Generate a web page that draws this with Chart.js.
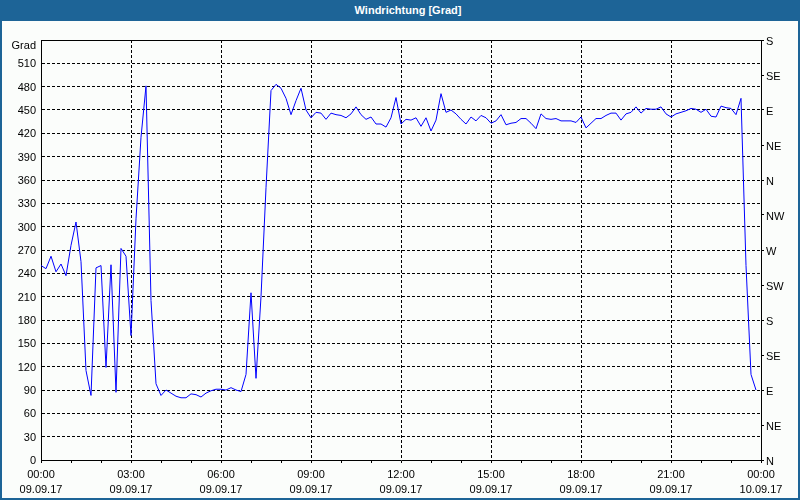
<!DOCTYPE html>
<html><head><meta charset="utf-8">
<script src="https://cdn.jsdelivr.net/npm/chart.js@4/dist/chart.umd.min.js"></script>
<style>
html,body{margin:0;padding:0;background:#fff;}
#wrap{position:relative;width:800px;height:500px;background:#fbfdfb;overflow:hidden;}
#c{position:absolute;left:0;top:0;width:800px;height:500px;}
#frame{position:absolute;left:0;top:0;width:796px;height:496px;border:2px solid #1d6497;pointer-events:none;}
#title{position:absolute;left:0;top:0;width:800px;height:21px;background:#1d6497;color:#fff;font:bold 11px "Liberation Sans",sans-serif;line-height:21px;text-align:center;}
#title span{position:relative;left:8px;}
</style></head><body>
<div id="wrap"><canvas id="c" width="800" height="500"></canvas><div id="title"><span>Windrichtung [Grad]</span></div><div id="frame"></div></div>
<script>
// sampling interval of the series (minutes), starting 09.09.17 00:00
const sampleMinutes = 10;
// wind direction in degrees, one value per sample
const windDirection = [
250,246,262,242,252,237,276,306,255,115,
83,247,250,119,251,87,272,262,160,310,
415,481,205,98,83,90,86,82,80,80,
85,84,81,86,89,91,91,90,93,90,
88,110,215,105,210,350,475,483,478,465,
444,462,478,450,440,447,446,438,446,444,
443,440,445,454,444,438,441,432,432,428,
440,466,432,438,437,440,429,440,423,437,
471,447,450,445,438,432,441,436,443,440,
433,436,444,431,433,434,439,439,433,426,
445,439,438,439,436,436,436,434,441,427,
433,439,439,443,446,446,437,445,447,454,
446,452,451,451,454,445,441,445,447,449,
452,451,447,451,442,441,455,453,452,444,
465,250,110,90
];
const timeLabels = ['00:00','03:00','06:00','09:00','12:00','15:00','18:00','21:00','00:00'];
const dateLabels = ['09.09.17','09.09.17','09.09.17','09.09.17','09.09.17','09.09.17','09.09.17','09.09.17','10.09.17'];
const compassLabels = ['N','NE','E','SE','S','SW','W','NW','N','NE','E','SE','S'];
const axisTitle = 'Grad';

const points = windDirection.map((v, i) => ({x: i * sampleMinutes, y: v}));
const FONT = {family: '"Liberation Sans", sans-serif', size: 11};

const framePlugin = {
  id: 'framePlugin',
  afterDraw(chart) {
    const {ctx, chartArea: a} = chart;
    ctx.save();
    ctx.strokeStyle = '#000';
    ctx.lineWidth = 1;
    ctx.beginPath();
    ctx.moveTo(a.left, a.top + 0.5);
    ctx.lineTo(a.right + 1, a.top + 0.5);
    ctx.stroke();
    const ys = chart.scales.y;
    ctx.fillStyle = '#000';
    ctx.font = '11px "Liberation Sans", sans-serif';
    ctx.textAlign = 'right';
    ctx.textBaseline = 'middle';
    ctx.fillText(axisTitle, ys.right - 5, ys.getPixelForValue(540) + 6);
    ctx.restore();
  }
};

new Chart(document.getElementById('c'), {
  type: 'line',
  data: {datasets: [{
    data: points,
    borderColor: '#0000ff',
    borderWidth: 1,
    pointRadius: 0,
    tension: 0,
    fill: false
  }]},
  options: {
    responsive: false,
    animation: false,
    devicePixelRatio: 1,
    layout: {padding: {top: 40, left: 0, right: 0, bottom: 0}},
    plugins: {legend: {display: false}, title: {display: false}, tooltip: {enabled: false}},
    scales: {
      x: {
        type: 'linear', position: 'bottom', min: 0, max: 1440,
        ticks: {
          stepSize: 60, autoSkip: false, maxRotation: 0, minRotation: 0, padding: 4,
          color: '#000', font: {...FONT, lineHeight: '15px'},
          callback: v => v % 180 === 0 ? [timeLabels[v / 180], dateLabels[v / 180]] : ''
        },
        grid: {
          color: c => (c.tick && c.tick.value % 180 === 0) ? '#000' : 'rgba(0,0,0,0)',
          tickColor: '#000', tickLength: 3, drawTicks: true, lineWidth: 1, tickBorderDash: []
        },
        border: {color: '#000', width: 1, dash: [3, 2]},
        afterFit: s => { s.height = 40; }
      },
      y: {
        position: 'left', min: 0, max: 540,
        ticks: {stepSize: 30, padding: 5, color: '#000', font: FONT, labelOffset: 1,
          callback: v => v === 540 ? '' : String(v)},
        grid: {color: '#000', drawTicks: false, lineWidth: 1},
        border: {color: '#000', width: 1, dash: [3, 2]},
        afterFit: s => { s.width = 41; }
      },
      y2: {
        position: 'right', min: 0, max: 540,
        ticks: {stepSize: 45, padding: 2, color: '#000', font: FONT, labelOffset: 2,
          callback: v => compassLabels[Math.round(v / 45)]},
        grid: {drawOnChartArea: false, drawTicks: true, tickLength: 3, color: '#000', tickColor: '#000'},
        border: {color: '#000', width: 1},
        afterFit: s => { s.width = 39; }
      }
    }
  },
  plugins: [framePlugin]
});
</script>
</body></html>
